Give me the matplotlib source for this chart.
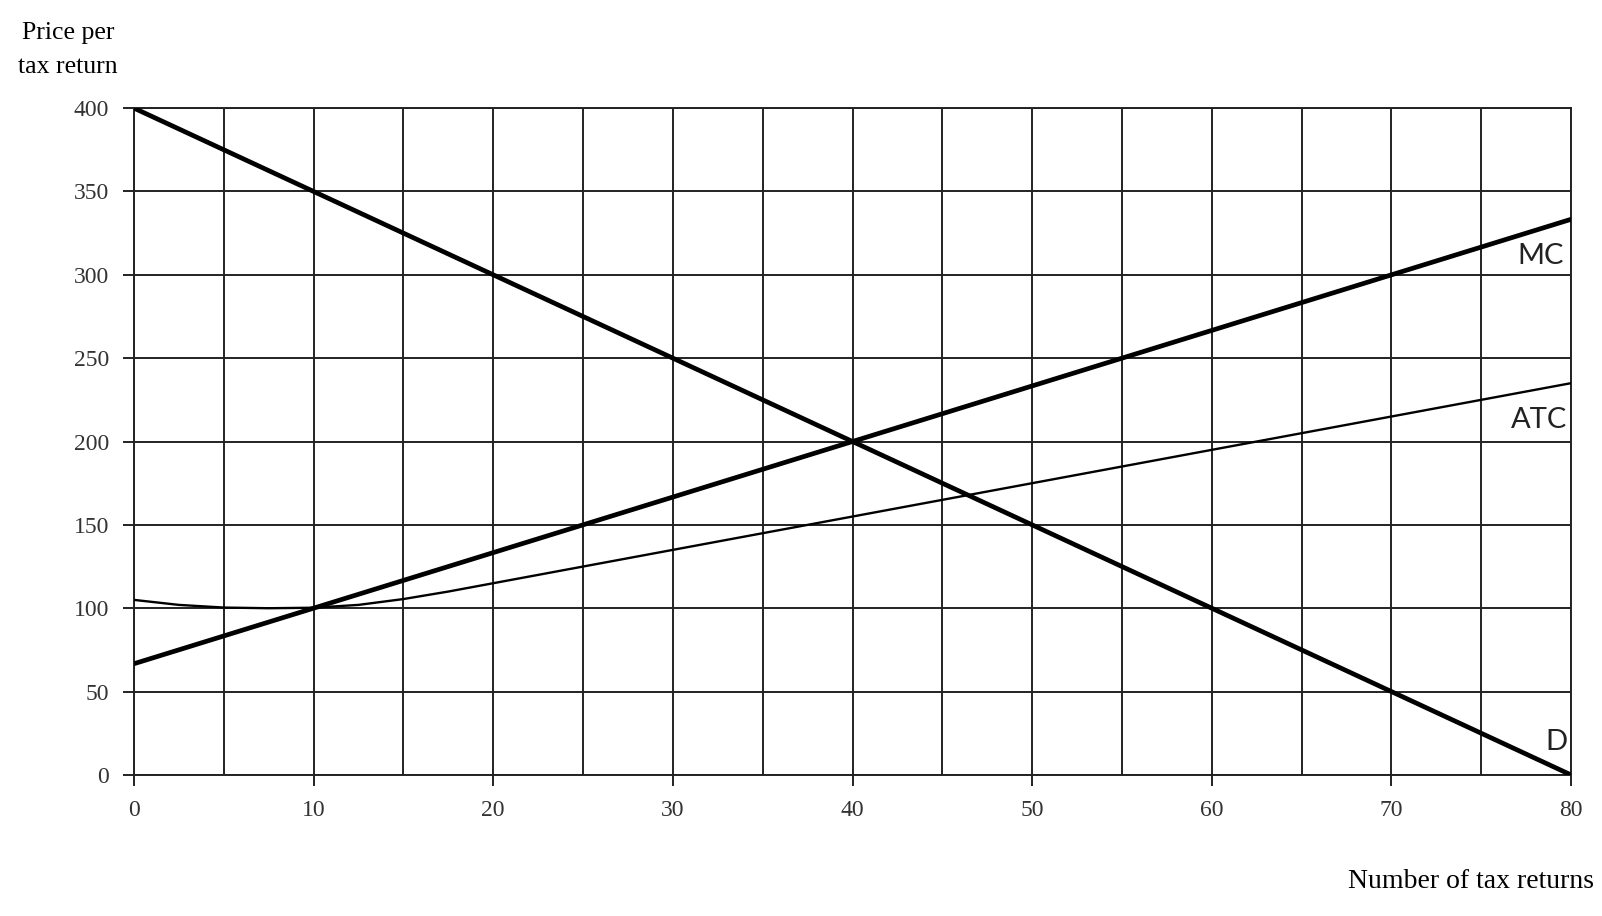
import matplotlib.pyplot as plt
import numpy as np

# data
demand_q = [0, 80]
demand_p = [400, 0]

mc_q = [0, 80]
mc_p = [66.7, 333.3]

atc_q = [0, 2.5, 5, 7.5, 10, 12.5, 15, 17.5, 20, 25, 30, 35, 40, 45, 50, 55, 60, 65, 70, 75, 80]
atc_p = [105, 102, 100.4, 100, 100.3, 102, 105.5, 110, 115, 125, 135, 145, 155, 165, 175, 185, 195, 205, 215, 225, 235]

x_ticks = [0, 10, 20, 30, 40, 50, 60, 70, 80]
y_ticks = [0, 50, 100, 150, 200, 250, 300, 350, 400]

serif = 'Liberation Serif'
sans = 'Lato'

fig = plt.figure(figsize=(16.02, 9.16), dpi=100)
ax = fig.add_axes([0.0836, 0.154, 0.8971, 0.728])

# grid every 5 on x, every 50 on y
for xv in np.arange(0, 81, 5):
    ax.axvline(xv, color='#222222', lw=1.4, zorder=1)
for yv in y_ticks:
    ax.axhline(yv, color='#222222', lw=1.4, zorder=1)

ax.plot(demand_q, demand_p, color='black', lw=3.4, solid_capstyle='butt', zorder=3)
ax.plot(mc_q, mc_p, color='black', lw=3.4, solid_capstyle='butt', zorder=3)
ax.plot(atc_q, atc_p, color='black', lw=1.7, zorder=3)

ax.set_xlim(0, 80)
ax.set_ylim(0, 400)
ax.set_xticks(x_ticks)
ax.set_yticks(y_ticks)
ax.tick_params(length=8, width=1.4, color='#222222', pad=10, labelsize=17, labelcolor='#333333')
for lab in ax.get_xticklabels() + ax.get_yticklabels():
    lab.set_fontfamily(serif)
for sp in ax.spines.values():
    sp.set_linewidth(1.4)
    sp.set_color('#222222')

# curve labels
ax.text(79.6, 311, 'MC', ha='right', va='center', fontsize=21, family=sans, color='#222222')
ax.text(79.8, 213, 'ATC', ha='right', va='center', fontsize=21, family=sans, color='#222222')
ax.text(79.8, 20, 'D', ha='right', va='center', fontsize=21, family=sans, color='#222222')

fig.text(68 / 1602, 1 - 50 / 916, 'Price per\ntax return', ha='center', va='center',
         fontsize=18.5, family=serif, linespacing=1.65)
fig.text(1594 / 1602, 1 - 882 / 916, 'Number of tax returns', ha='right', va='center',
         fontsize=20, family=serif)

fig.savefig('out.png', dpi=100)
